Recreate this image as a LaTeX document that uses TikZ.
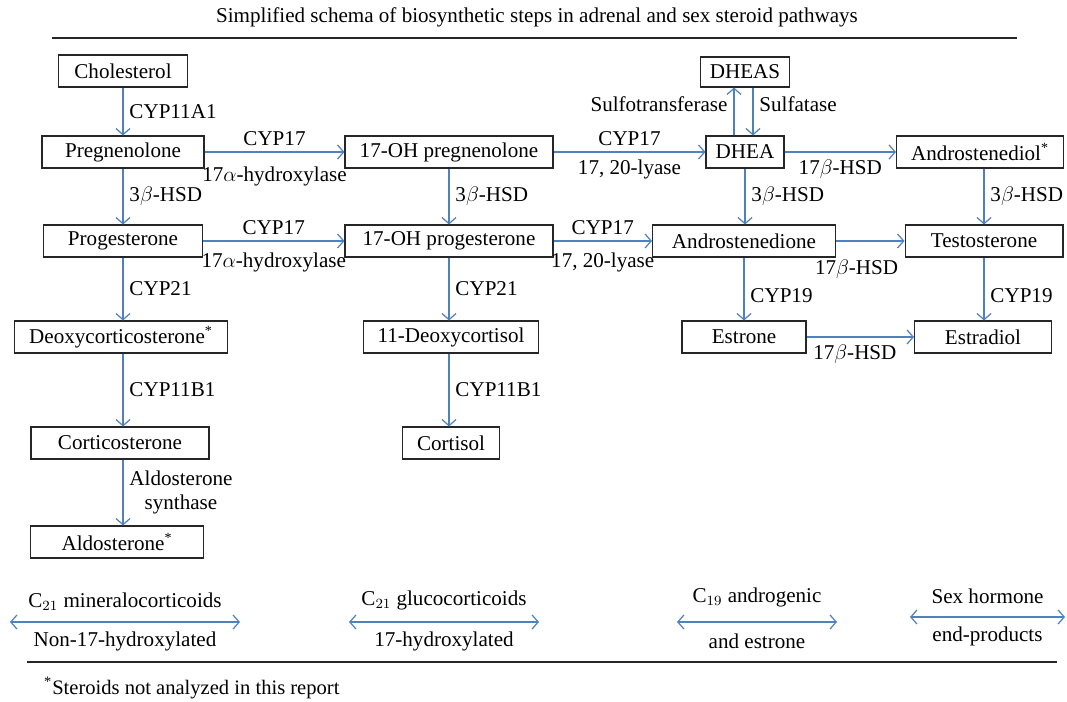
\documentclass[tikz,border=0pt]{standalone}
\usepackage{fontspec}
\setmainfont{Liberation Serif}
\usetikzlibrary{arrows.meta}
\definecolor{flowblue}{RGB}{79,129,189}
\tikzset{
  box/.style={draw=black!85, line width=0.6pt, minimum height=0.64cm, inner sep=2pt},
  flow/.style={->, draw=flowblue, line width=0.7pt},
  span/.style={<->, draw=flowblue, line width=0.7pt},
  rule/.style={line width=0.8pt, black!85},
}
\begin{document}
\begin{tikzpicture}[x=0.02cm, y=-0.02cm, >={Straight Barb[length=3.5pt,width=8pt]},
    font=\fontsize{12}{14}\selectfont]
\useasboundingbox (0,0) rectangle (1067,702);
% title
\node[font=\fontsize{12}{14}\selectfont] (title) at (537,17) {Simplified schema of biosynthetic steps in adrenal and sex steroid pathways};
\draw[rule] (52,38) -- (1017,38);
% steroids
\node[box, minimum width=2.58cm] (chol) at (123,71) {Cholesterol};
\node[box, minimum width=3.24cm] (preg) at (123,152) {Pregnenolone};
\node[box, minimum width=3.18cm] (prog) at (123,241) {Progesterone};
\node[box, minimum width=4.26cm] (doc) at (121,337) {Deoxycorticosterone\textsuperscript{*}};
\node[box, minimum width=3.56cm] (cortico) at (120,443) {Corticosterone};
\node[box, minimum width=3.46cm, anchor=west] (aldo) at (30,542) {Aldosterone\textsuperscript{*}};
\node[box, minimum width=4.16cm] (ohpreg) at (449,152) {17-OH pregnenolone};
\node[box, minimum width=4.16cm] (ohprog) at (449,241) {17-OH progesterone};
\node[box, minimum width=3.5cm] (deoxcort) at (451,337) {11-Deoxycortisol};
\node[box, minimum width=1.94cm] (cortisol) at (451,443) {Cortisol};
\node[box, minimum width=1.78cm, minimum height=0.6cm] (dheas) at (745,72) {DHEAS};
\node[box, minimum width=1.56cm] (dhea) at (745,152) {DHEA};
\node[box, minimum width=3.66cm] (adione) at (744,241) {Androstenedione};
\node[box, minimum width=2.48cm] (estrone) at (744,337) {Estrone};
\node[box, minimum width=3.34cm] (adiol) at (980,152) {Androstenediol\textsuperscript{*}};
\node[box, minimum width=3.16cm] (testo) at (984,241) {Testosterone};
\node[box, minimum width=2.74cm] (estradiol) at (983,337) {Estradiol};
% vertical steps
\draw[flow] (chol) -- (preg) node[midway, right] {CYP11A1};
\draw[flow] (preg) -- (prog) node[midway, right] {3$\beta$-HSD};
\draw[flow] (prog) -- (prog |- doc.north) node[midway, right] {CYP21};
\draw[flow] (prog |- doc.south) -- (prog |- cortico.north) node[midway, right] {CYP11B1};
\draw[flow] (prog |- cortico.south) -- (prog |- aldo.north) node[midway, right, align=center] {Aldosterone\\synthase};
\draw[flow] (ohpreg) -- (ohprog) node[midway, right] {3$\beta$-HSD};
\draw[flow] (ohprog) -- (ohprog |- deoxcort.north) node[midway, right] {CYP21};
\draw[flow] (ohprog |- deoxcort.south) -- (ohprog |- cortisol.north) node[midway, right] {CYP11B1};
\draw[flow] ([xshift=-0.22cm]dhea.north) -- ([xshift=-0.22cm]dheas.south) node[pos=0.66, left] {Sulfotransferase};
\draw[flow] ([xshift=0.16cm]dheas.south) -- ([xshift=0.16cm]dhea.north) node[pos=0.34, right] {Sulfatase};
\draw[flow] (dhea) -- (dhea |- adione.north) node[midway, right] {3$\beta$-HSD};
\draw[flow] (adione) -- (estrone) node[pos=0.6, right] {CYP19};
\draw[flow] (testo |- adiol.south) -- (testo) node[midway, right] {3$\beta$-HSD};
\draw[flow] (testo) -- (testo |- estradiol.north) node[pos=0.6, right] {CYP19};
% horizontal steps
\draw[flow] (preg) -- (ohpreg) node[midway, above] {CYP17} node[midway, below=5pt] {17$\alpha$-hydroxylase};
\draw[flow] (prog) -- (ohprog) node[midway, above] {CYP17} node[midway, below=3pt] {17$\alpha$-hydroxylase};
\draw[flow] (ohpreg) -- (dhea) node[midway, above] {CYP17} node[midway, below=1pt] {17, 20-lyase};
\draw[flow] (ohprog) -- (adione) node[midway, above] {CYP17} node[midway, below=3pt] {17, 20-lyase};
\draw[flow] (dhea) -- (adiol) node[midway, below=1pt] {17$\beta$-HSD};
\draw[flow] (adione) -- (testo) node[pos=0.3, below=7pt] {17$\beta$-HSD};
\draw[flow] (estrone) -- (estradiol) node[pos=0.45, below=1pt] {17$\beta$-HSD};
% legend
\coordinate (m1) at (10,622);  \coordinate (m2) at (240,622);
\coordinate (g1) at (349,622); \coordinate (g2) at (539,622);
\coordinate (a1) at (677,622); \coordinate (a2) at (837,622);
\coordinate (s1) at (910,617); \coordinate (s2) at (1065,617);
\draw[span] (m1) -- (m2) node[midway, above=3pt] {C$_{21}$ mineralocorticoids} node[midway, below=2pt] {Non-17-hydroxylated};
\draw[span] (g1) -- (g2) node[midway, above=3pt] {C$_{21}$ glucocorticoids} node[midway, below=2pt] {17-hydroxylated};
\draw[span] (a1) -- (a2) node[midway, above=5pt] {C$_{19}$ androgenic} node[midway, below=3pt] {and estrone};
\draw[span] (s1) -- (s2) node[midway, above=4pt] {Sex hormone} node[midway, below=2pt] {end-products};
\draw[rule] (27,662) -- (1057,662);
\node[anchor=west, font=\fontsize{11.7}{13}\selectfont] (note) at (38,688) {\textsuperscript{*}Steroids not analyzed in this report};
\end{tikzpicture}
\end{document}
